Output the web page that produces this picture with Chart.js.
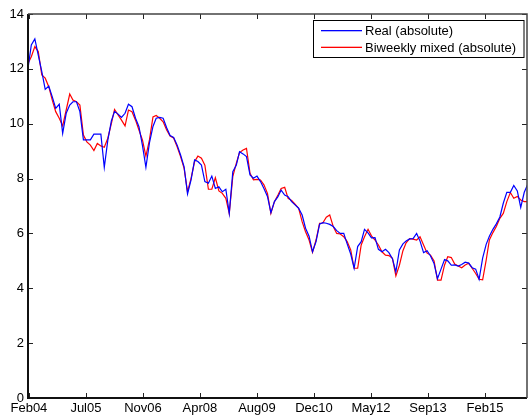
<!DOCTYPE html>
<html>
<head>
<meta charset="utf-8">
<script src="https://cdn.jsdelivr.net/npm/chart.js@4/dist/chart.umd.min.js"></script>
<style>
  html, body { margin: 0; padding: 0; background: #fff; }
  canvas { display: block; }
</style>
</head>
<body>
<canvas id="c" width="528" height="419"></canvas>
<script>
// Monthly series, first value Feb 2004
const startYear = 2004;
const startMonth = 1; // February (0-based)

const realAbsolute = [
  12.02, 12.87, 13.09, 12.5, 11.9, 11.25, 11.37, 10.98, 10.56, 10.71,
  9.65, 10.38, 10.68, 10.8, 10.8, 10.44, 9.41, 9.41, 9.41, 9.62,
  9.62, 9.62, 8.41, 9.4, 10.1, 10.45, 10.35, 10.23, 10.38, 10.71,
  10.62, 10.2, 9.89, 9.2, 8.41, 9.3, 9.9, 10.2, 10.23, 10.2,
  9.85, 9.57, 9.5, 9.22, 8.86, 8.43, 7.44, 7.95, 8.68, 8.62,
  8.49, 7.89, 7.83, 8.09, 7.64, 7.70, 7.52, 7.61, 6.73, 8.25,
  8.49, 8.98, 8.90, 8.80, 8.13, 8.01, 8.09, 7.89, 7.64, 7.35,
  6.76, 7.16, 7.34, 7.58, 7.40, 7.34, 7.16, 7.04, 6.92, 6.67,
  6.19, 5.9, 5.33, 5.70, 6.34, 6.39, 6.37, 6.33, 6.25, 6.1,
  6.0, 6.0, 5.62, 5.25, 4.73, 5.52, 5.7, 6.15, 6.02, 5.84,
  5.85, 5.42, 5.33, 5.42, 5.30, 5.08, 4.60, 5.4, 5.62, 5.72,
  5.8, 5.81, 6.0, 5.72, 5.30, 5.37, 5.18, 4.9, 4.35, 4.7,
  5.05, 5.0, 4.84, 4.85, 4.81, 4.87, 4.95, 4.92, 4.75, 4.7,
  4.33, 5.1, 5.6, 5.9, 6.15, 6.35, 6.6, 7.1, 7.5, 7.5,
  7.75, 7.55, 6.95, 7.5, 7.8
];

const biweeklyMixedAbsolute = [
  12.2, 12.44, 12.81, 12.63, 11.78, 11.66, 11.35, 10.86, 10.44, 10.2,
  9.92, 10.5, 11.08, 10.86, 10.8, 10.68, 9.59, 9.34, 9.22, 9.02,
  9.28, 9.19, 9.14, 9.47, 10.0, 10.52, 10.32, 10.13, 9.92, 10.5,
  10.44, 10.13, 9.77, 9.4, 8.82, 9.41, 10.25, 10.3, 10.2, 10.07,
  9.77, 9.55, 9.48, 9.16, 8.8, 8.37, 7.52, 8.01, 8.62, 8.82,
  8.74, 8.49, 7.61, 7.61, 8.03, 7.55, 7.46, 7.28, 6.73, 8.07,
  8.56, 8.95, 9.04, 9.10, 8.19, 7.95, 7.97, 7.95, 7.77, 7.46,
  6.73, 7.16, 7.40, 7.64, 7.68, 7.28, 7.2, 7.07, 6.92, 6.43,
  6.06, 5.76, 5.31, 5.76, 6.37, 6.38, 6.59, 6.67, 6.25, 6.0,
  5.98, 5.88, 5.70, 5.40, 4.73, 4.73, 5.58, 5.88, 6.15, 5.91,
  5.76, 5.58, 5.33, 5.21, 5.19, 5.09, 4.45, 4.84, 5.37, 5.66,
  5.81, 5.79, 5.76, 5.88, 5.58, 5.28, 5.21, 5.0, 4.3, 4.3,
  4.85, 5.15, 5.12, 4.88, 4.81, 4.75, 4.85, 4.91, 4.73, 4.54,
  4.33, 4.31, 5.03, 5.76, 6.03, 6.25, 6.55, 6.73, 7.16, 7.49,
  7.28, 7.35, 7.22, 7.16, 7.16
];

const xTickLabels = ['Feb04', 'Jul05', 'Nov06', 'Apr08', 'Aug09', 'Dec10', 'May12', 'Sep13', 'Feb15'];
const yTickValues = [0, 2, 4, 6, 8, 10, 12, 14];
const seriesColors = ['#0000ff', '#ff0000'];

// x axis is measured in days from the first date tick (23 Feb 2004); date ticks every 500 days
const DAY = 86400000;
const tickOrigin = Date.UTC(2004, 1, 23);
const tickStepDays = 500;
const dayOf = i => (Date.UTC(startYear, startMonth + i, 15) - tickOrigin) / DAY;

const toPoints = arr => arr.map((v, i) => ({ x: dayOf(i), y: v }));

const FONT = { family: '"Liberation Sans", Arial, Helvetica, sans-serif', size: 13 };

// Box frame, inward tick marks on all four sides, and the boxed legend
const framePlugin = {
  id: 'frame',
  afterDraw(chart) {
    const { ctx, chartArea: a, scales } = chart;
    ctx.save();
    // inward tick marks
    ctx.strokeStyle = '#222';
    ctx.lineWidth = 1;
    ctx.beginPath();
    scales.x.ticks.forEach(t => {
      const px = Math.round(scales.x.getPixelForValue(t.value)) + 0.5;
      ctx.moveTo(px, a.bottom); ctx.lineTo(px, a.bottom - 5);
      ctx.moveTo(px, a.top); ctx.lineTo(px, a.top + 5);
    });
    scales.y.ticks.forEach(t => {
      const py = Math.round(scales.y.getPixelForValue(t.value)) + 0.5;
      ctx.moveTo(a.left, py); ctx.lineTo(a.left + 5, py);
      ctx.moveTo(a.right, py); ctx.lineTo(a.right - 5, py);
    });
    ctx.stroke();
    // axes box
    ctx.strokeStyle = '#111';
    ctx.lineWidth = 2;
    ctx.beginPath();
    ctx.moveTo(a.left, a.top); ctx.lineTo(a.left, a.bottom); ctx.lineTo(a.right, a.bottom);
    ctx.stroke();
    ctx.strokeStyle = '#444';
    ctx.lineWidth = 1.5;
    ctx.beginPath();
    ctx.moveTo(a.left, a.top); ctx.lineTo(a.right, a.top); ctx.lineTo(a.right, a.bottom);
    ctx.stroke();

    // legend
    const bx = 313.5, by = 20.5, bw = 210.5, bh = 37;
    ctx.fillStyle = '#fff';
    ctx.fillRect(bx, by, bw, bh);
    ctx.strokeStyle = '#000';
    ctx.lineWidth = 1;
    ctx.strokeRect(bx, by, bw, bh);
    ctx.font = `${FONT.size}px ${FONT.family}`;
    ctx.textBaseline = 'middle';
    ctx.textAlign = 'left';
    chart.data.datasets.forEach((ds, k) => {
      const y = 30 + k * 16.7;
      ctx.fillStyle = seriesColors[k];
      ctx.fillRect(321, y, 41, 1.3);
      ctx.fillStyle = '#000';
      ctx.fillText(ds.label, 365, y + 1.5);
    });
    ctx.restore();
  }
};

new Chart(document.getElementById('c'), {
  type: 'line',
  data: {
    datasets: [
      {
        label: 'Real (absolute)',
        data: toPoints(realAbsolute),
        borderColor: seriesColors[0],
        borderWidth: 1.2,
        pointRadius: 0,
        tension: 0
      },
      {
        label: 'Biweekly mixed (absolute)',
        data: toPoints(biweeklyMixedAbsolute),
        borderColor: seriesColors[1],
        borderWidth: 1.2,
        pointRadius: 0,
        tension: 0
      }
    ]
  },
  options: {
    responsive: false,
    animation: false,
    layout: { padding: { top: 14, right: 1, left: 0, bottom: 0 } },
    plugins: { legend: { display: false }, tooltip: { enabled: false } },
    scales: {
      x: {
        type: 'linear',
        min: -8,
        max: 4368,
        grid: { display: false, drawTicks: false },
        border: { display: false },
        afterBuildTicks: s => { s.ticks = xTickLabels.map((_, k) => ({ value: k * tickStepDays })); },
        afterFit: s => { s.height = 21; },
        ticks: {
          padding: 3,
          autoSkip: false,
          maxRotation: 0,
          color: '#000',
          font: FONT,
          callback: v => xTickLabels[Math.round(v / tickStepDays)] ?? ''
        }
      },
      y: {
        min: 0,
        max: 14,
        grid: { display: false, drawTicks: false },
        border: { display: false },
        afterBuildTicks: s => { s.ticks = yTickValues.map(v => ({ value: v })); },
        afterFit: s => { s.width = 28; },
        ticks: {
          padding: 4,
          color: '#000',
          font: FONT,
          callback: v => String(v)
        }
      }
    }
  },
  plugins: [framePlugin]
});
</script>
</body>
</html>
